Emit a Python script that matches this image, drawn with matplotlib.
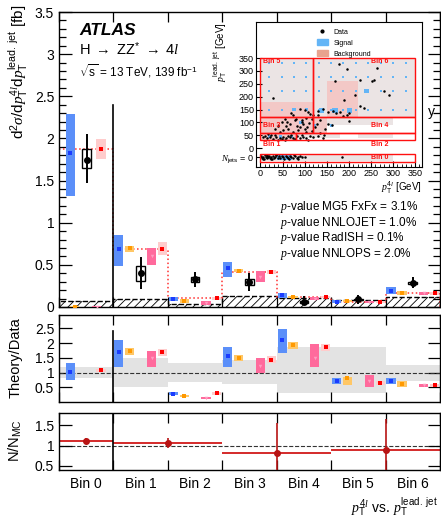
import matplotlib.pyplot as plt
import numpy as np
from matplotlib.patches import Rectangle, Patch
from matplotlib.lines import Line2D
from matplotlib.ticker import FuncFormatter, MultipleLocator

plt.rcParams['font.family'] = 'Liberation Sans'
plt.rcParams['mathtext.fontset'] = 'custom'
plt.rcParams['mathtext.rm'] = 'Liberation Sans'
plt.rcParams['mathtext.it'] = 'Liberation Serif:italic'
plt.rcParams['mathtext.bf'] = 'Liberation Sans:bold'
plt.rcParams['hatch.linewidth'] = 0.6

bins = ['Bin 0', 'Bin 1', 'Bin 2', 'Bin 3', 'Bin 4', 'Bin 5', 'Bin 6']

# --- top panel: cross sections [fb]
data_val = [1.75, 0.407, 0.33, 0.293, 0.063, 0.091, 0.288]
data_elo = [1.475, 0.217, 0.24, 0.19, 0.024, 0.036, 0.225]
data_ehi = [2.05, 0.597, 0.42, 0.40, 0.13, 0.142, 0.352]
data_slo = [1.645, 0.312, 0.30, 0.257, 0.05, 0.08, 0.275]
data_shi = [1.88, 0.486, 0.35, 0.33, 0.075, 0.10, 0.30]

mg5_c = [1.83, 0.688, 0.10, 0.466, 0.138, 0.065, 0.193]
mg5_lo = [1.317, 0.486, 0.071, 0.36, 0.11, 0.052, 0.154]
mg5_hi = [2.286, 0.854, 0.122, 0.537, 0.162, 0.08, 0.24]

nnlojet_c = [0.004, 0.703, 0.075, 0.43, 0.122, 0.068, 0.17]
nnlojet_lo = [0.0, 0.656, 0.05, 0.41, 0.11, 0.055, 0.145]
nnlojet_hi = [0.01, 0.727, 0.091, 0.45, 0.135, 0.085, 0.19]

radish_c = [0.004, 0.605, 0.045, 0.36, 0.10, 0.058, 0.162]
radish_lo = [0.0, 0.495, 0.027, 0.293, 0.08, 0.045, 0.145]
radish_hi = [0.01, 0.703, 0.067, 0.43, 0.122, 0.072, 0.18]

nnlops_c = [1.875, 0.692, 0.103, 0.415, 0.12, 0.056, 0.162]
nnlops_lo = [1.755, 0.617, 0.085, 0.39, 0.105, 0.045, 0.145]
nnlops_hi = [1.99, 0.775, 0.12, 0.44, 0.135, 0.07, 0.18]

bkg = [0.075, 0.09, 0.035, 0.13, 0.105, 0.085, 0.115]

pvalues = ['$p$-value MG5 FxFx = 3.1%', '$p$-value NNLOJET = 1.0%',
           '$p$-value RadISH = 0.1%', '$p$-value NNLOPS = 2.0%']

# --- middle panel: theory / data
band_lo = [0.81, 0.50, 0.67, 0.60, 0.30, 0.30, 0.70]
band_hi = [1.18, 1.48, 1.31, 1.42, 1.85, 1.85, 1.27]

r_mg5_c = [1.03, 1.69, 0.28, 1.57, 2.10, 0.71, 0.71]
r_mg5_lo = [0.73, 1.18, 0.23, 1.20, 1.67, 0.62, 0.60]
r_mg5_hi = [1.31, 2.10, 0.33, 1.85, 2.48, 0.80, 0.80]
r_nnlojet_c = [np.nan, 1.73, 0.20, 1.50, 1.94, 0.81, 0.62]
r_nnlojet_lo = [np.nan, 1.60, 0.16, 1.40, 1.80, 0.58, 0.52]
r_nnlojet_hi = [np.nan, 1.82, 0.25, 1.58, 2.04, 0.86, 0.72]
r_radish_c = [np.nan, 1.48, 0.13, 1.21, 1.48, 0.70, 0.56]
r_radish_lo = [np.nan, 1.20, 0.10, 0.98, 1.18, 0.50, 0.50]
r_radish_hi = [np.nan, 1.74, 0.18, 1.48, 1.97, 0.92, 0.62]
r_nnlops_c = [1.07, 1.69, 0.30, 1.43, 1.85, 0.64, 0.56]
r_nnlops_lo = [1.02, 1.55, 0.25, 1.32, 1.72, 0.57, 0.50]
r_nnlops_hi = [1.12, 1.80, 0.35, 1.55, 1.98, 0.72, 0.62]

# --- bottom panel: N / N_MC
nmc_lo_edge = [0, 1, 3, 5]
nmc_hi_edge = [1, 3, 5, 7]
nmc_val = [1.11, 1.06, 0.81, 0.90]
nmc_err = [0.08, 0.13, 0.75, 0.76]

# --- inset
inset_data_x = [29, 178, 196, 263, 169, 225, 253, 256, 280, 291, 214, 189, 225, 234, 131, 142, 153,
                172, 187, 196, 200, 180, 165, 89, 100, 108, 112, 116, 119, 131,
                163, 200, 152, 147, 143, 135, 70, 74, 55, 48, 40, 33, 67, 78, 82, 89, 93, 97, 100,
                106, 110, 85, 63, 51, 44, 74, 104, 116, 123, 127, 135, 60, 95, 103, 80, 58,
                6, 14, 21, 29, 36, 44, 51, 59, 67, 74, 82, 89, 97, 104, 112, 119, 131, 142, 10, 25,
                40, 55, 70, 93, 108, 17, 33, 48, 63, 78,
                2, 4, 6, 8, 10, 12, 14, 16, 18, 20, 22, 24, 26, 28, 30, 33, 36, 39, 42, 45, 48, 51,
                54, 57, 60, 63, 66, 70, 74, 78, 82, 86, 90, 95, 100, 184, 5, 15, 25, 35, 65, 75, 85]
inset_data_y = [195, 325, 309, 313, 260, 264, 260, 264, 222, 208, 205, 188, 162, 156, 143, 151, 140,
                138, 125, 127, 138, 140, 144, 151, 147, 140, 131, 114, 127, 127,
                91, 105, 92, 73, 53, 60, 138, 127, 114, 101, 88, 75, 95, 108, 88, 82, 101, 92, 75,
                84, 97, 69, 75, 69, 62, 62, 62, 66, 82, 95, 108, 100, 110, 118, 115, 85,
                43, 40, 45, 36, 43, 39, 44, 38, 43, 39, 48, 40, 45, 40, 49, 43, 49, 40, 49, 53,
                32, 32, 53, 53, 32, 55, 50, 35, 47, 34,
                -30, -38, -34, -42, -28, -36, -31, -40, -35, -29, -39, -33, -41, -30, -37, -34, -28, -40,
                -32, -38, -30, -36, -42, -31, -35, -39, -29, -33, -37, -31, -38, -34, -30, -36, -33, -35,
                -44, -26, -44, -26, -44, -26, -42]

sig_grid_x = [20, 48, 76, 104, 132, 160, 188, 216, 244, 272, 301, 329]
sig_grid_y = [150, 222, 277, 329]
sig_x = [138, 169, 201, 240, 76, 104, 123, 160, 45, 55, 65, 20, 45, 70, 90]
sig_y = [147, 147, 147, 222, 150, 150, 88, 88, -35, -35, -35, 45, 45, 45, 100]
sig_s = [14, 14, 14, 10, 6, 6, 6, 5, 18, 18, 14, 5, 6, 5, 4]

bg_x0 = [0, 0, 150, 0, 150, 0, 80, 220, 0]
bg_x1 = [350, 120, 220, 150, 300, 80, 180, 300, 300]
bg_y0 = [120, 120, 120, 60, 90, 30, 40, 40, -48]
bg_y1 = [350, 180, 260, 120, 120, 60, 60, 55, -22]
bg_lvl = [0, 1, 1, 1, 0, 1, 0, 0, 0]

ibin_x0 = [0, 0, 80, 0, 120, 0, 120]
ibin_x1 = [350, 80, 350, 120, 350, 120, 350]
ibin_y0 = [-54, 30, 30, 60, 60, 120, 120]
ibin_y1 = [-22, 60, 60, 120, 120, 350, 350]
ibin_lx = [250, 5, 250, 5, 250, 5, 250]
ibin_ly = [-35, 13, 13, 88, 88, 335, 335]

W, H = 441, 519
fig = plt.figure(figsize=(W / 100, H / 100), dpi=100)


def rect(x0, y0, x1, y1):
    return [x0 / W, 1 - y1 / H, (x1 - x0) / W, (y1 - y0) / H]


ax1 = fig.add_axes(rect(59, 12, 440, 307))
ax2 = fig.add_axes(rect(59, 315, 440, 402))
ax3 = fig.add_axes(rect(59, 413, 440, 470))

edges = np.arange(8)
left = np.arange(7)
off_first = {'mg5': 0.21, 'nnlojet': 0.29, 'data': 0.51, 'radish': 0.69, 'nnlops': 0.77}
off_rest = {'mg5': 0.1, 'nnlojet': 0.3, 'data': 0.5, 'radish': 0.7, 'nnlops': 0.9}


def xpos(key):
    return np.array([off_first[key]] + [off_rest[key]] * 6) + left


styles = {
    'mg5': dict(box='#5b8ff9', mk='s', mc='#1a3cff', ms=2.2),
    'nnlojet': dict(box='#ffc766', mk='s', mc='#ff9900', ms=2.5),
    'radish': dict(box='#ff6a9c', mk='v', mc='#ff9cc0', ms=2.5),
    'nnlops': dict(box='#ffcccc', mk='s', mc='#ff0000', ms=3.5),
}
bw = 0.17


def draw_models(ax, sets):
    for key, c, lo, hi in sets:
        st = styles[key]
        x = xpos(key)
        c, lo, hi = np.array(c), np.array(lo), np.array(hi)
        ok = ~np.isnan(c)
        ax.bar(x[ok], (hi - lo)[ok], bw, bottom=lo[ok], color=st['box'], lw=0, zorder=3)
        ax.plot(x[ok], c[ok], ls='none', marker=st['mk'], color=st['mc'], ms=st['ms'], mew=0, zorder=4)


# ---------------- top panel
ax1.bar(left + 0.5, bkg, 1.0, fill=False, hatch='////', edgecolor='black', lw=0, zorder=1)
ax1.stairs(bkg, edges, color='black', ls='--', lw=1, zorder=2)
ax1.stairs(nnlops_c, edges, color='#ff3030', ls=':', lw=1.1, zorder=2)
draw_models(ax1, [('mg5', mg5_c, mg5_lo, mg5_hi), ('nnlojet', nnlojet_c, nnlojet_lo, nnlojet_hi),
                  ('radish', radish_c, radish_lo, radish_hi), ('nnlops', nnlops_c, nnlops_lo, nnlops_hi)])
xd = xpos('data')
dv = np.array(data_val)
ax1.bar(xd, np.array(data_shi) - np.array(data_slo), 0.16, bottom=data_slo, facecolor='white',
        edgecolor='black', lw=1.0, zorder=5)
ax1.errorbar(xd, dv, yerr=[dv - np.array(data_elo), np.array(data_ehi) - dv], fmt='o', color='black',
             ms=4, elinewidth=1.4, capsize=0, zorder=6)
ax1.plot([1, 1], [0, 2.4], color='black', lw=1.2, zorder=6)
ax1.set_xlim(0, 7)
ax1.set_ylim(0, 3.5)
ax1.yaxis.set_major_locator(MultipleLocator(0.5))
ax1.yaxis.set_minor_locator(MultipleLocator(0.1))
ax1.yaxis.set_major_formatter(FuncFormatter(lambda v, p: '%g' % v))

ax1.text(0.37, 3.286, 'ATLAS', fontsize=12.5, fontweight='bold', fontstyle='italic', va='center')
ax1.text(0.37, 3.057, r'H $\rightarrow$ ZZ$^{*}$ $\rightarrow$ 4$l$', fontsize=10.5, va='center')
ax1.text(0.37, 2.80, r'$\sqrt{\mathrm{s}}$ = 13 TeV, 139 fb$^{-1}$', fontsize=8.5, va='center')
for i, t in enumerate(pvalues):
    ax1.text(4.06, 1.183 - i * 0.185, t, fontsize=8.5, va='center')
fig.text(431 / W, 1 - 112 / H, 'y', fontsize=10, ha='center', va='center')
fig.text(18 / W, 1 - 5 / H,
         r'd$^2\sigma$/d$p_{\mathrm{T}}^{4l}$d$p_{\mathrm{T}}^{\mathrm{lead.\ jet}}$ [fb]',
         rotation=90, fontsize=11, ha='center', va='top')

# ---------------- middle panel
ax2.bar(left + 0.5, np.array(band_hi) - np.array(band_lo), 1.0, bottom=band_lo, color='#e3e3e3', lw=0, zorder=1)
ax2.axhline(1, color='#333333', ls='--', lw=0.8, zorder=2)
draw_models(ax2, [('mg5', r_mg5_c, r_mg5_lo, r_mg5_hi), ('nnlojet', r_nnlojet_c, r_nnlojet_lo, r_nnlojet_hi),
                  ('radish', r_radish_c, r_radish_lo, r_radish_hi), ('nnlops', r_nnlops_c, r_nnlops_lo, r_nnlops_hi)])
ax2.plot([1, 1], [0, 2.4], color='black', lw=1.2, zorder=6)
ax2.set_xlim(0, 7)
ax2.set_ylim(0, 2.95)
ax2.set_yticks([0.5, 1, 1.5, 2, 2.5])
ax2.yaxis.set_major_formatter(FuncFormatter(lambda v, p: '%g' % v))
fig.text(16 / W, 1 - 358 / H, 'Theory/Data', rotation=90, fontsize=10.5, ha='center', va='center')

# ---------------- bottom panel
ax3.axhline(1, color='#333333', ls='--', lw=0.8, zorder=1)
ax3.hlines(nmc_val, nmc_lo_edge, nmc_hi_edge, color='#d42a2a', lw=1.4, zorder=2)
nx = (np.array(nmc_lo_edge) + np.array(nmc_hi_edge)) / 2
ax3.errorbar(nx, nmc_val, yerr=nmc_err, fmt='o', color='#b81414', ms=4, elinewidth=1.2, capsize=0, zorder=3)
ax3.axvline(1, color='black', lw=1.2, zorder=4)
ax3.set_xlim(0, 7)
ax3.set_ylim(0.4, 1.8)
ax3.set_yticks([0.5, 1, 1.5])
ax3.yaxis.set_major_formatter(FuncFormatter(lambda v, p: '%g' % v))
ax3.set_xticks(left + 0.5, bins, minor=True)
fig.text(15 / W, 1 - 441 / H, r'N/N$_{\mathrm{MC}}$', rotation=90, fontsize=10.5, ha='center', va='center')
fig.text(438 / W, 1 - 507 / H, r'$p_{\mathrm{T}}^{4l}$ vs. $p_{\mathrm{T}}^{\mathrm{lead.\ jet}}$',
         fontsize=10, ha='right', va='center')

for ax in (ax1, ax2, ax3):
    ax.set_xticks(edges)
    ax.tick_params(which='major', axis='x', labelbottom=False, length=7)
    ax.tick_params(which='both', direction='in', top=True, right=True, labelsize=10, width=0.9)
    ax.tick_params(which='major', axis='y', length=9)
    ax.tick_params(which='minor', axis='y', length=5)
    for s in ax.spines.values():
        s.set_linewidth(1.0)
ax3.tick_params(which='minor', axis='x', length=0, labelbottom=True, labelsize=10, pad=5)

# ---------------- inset
axi = fig.add_axes(rect(256, 22, 421.7, 166.7))
bgcol = ['#ebe4e4', '#f3c8c6']
for x0, x1, y0, y1, lv in zip(bg_x0, bg_x1, bg_y0, bg_y1, bg_lvl):
    axi.add_patch(Rectangle((x0, y0), x1 - x0, y1 - y0, color=bgcol[lv], lw=0, zorder=1))
gx, gy = np.meshgrid(sig_grid_x, sig_grid_y)
axi.scatter(gx.ravel(), gy.ravel(), s=1.2, marker='s', color='#64b5f6', lw=0, zorder=2)
axi.scatter(sig_x, sig_y, s=sig_s, marker='s', color='#64b5f6', lw=0, zorder=2)
axi.plot(inset_data_x, inset_data_y, 'o', color='black', ms=1.8, mew=0, zorder=3)
for x0, x1, y0, y1, lx, ly, name in zip(ibin_x0, ibin_x1, ibin_y0, ibin_y1, ibin_lx, ibin_ly, bins):
    axi.add_patch(Rectangle((x0, y0), x1 - x0, y1 - y0, fill=False, edgecolor='#ff1010', lw=1.0, zorder=4))
    axi.text(lx, ly, name, color='#ff1010', fontsize=5, fontweight='bold', va='center', zorder=5)
axi.set_xlim(-10, 365)
axi.set_ylim(-72, 490)
axi.set_xticks(range(0, 351, 50))
axi.xaxis.set_minor_locator(MultipleLocator(10))
axi.set_yticks([-35] + list(range(0, 351, 50)),
               [r'$N_{\mathrm{jets}}$ = 0'] + [str(v) for v in range(0, 351, 50)])
axi.tick_params(which='both', direction='in', labelsize=6.5, pad=1.5)
axi.tick_params(which='major', length=4)
axi.tick_params(which='minor', length=2)
axi.set_xlabel(r'$p_{\mathrm{T}}^{4l}$ [GeV]', fontsize=7, loc='right', labelpad=1)
axi.set_ylabel(r'$p_{\mathrm{T}}^{\mathrm{lead.\ jet}}$ [GeV]', fontsize=7, loc='top')
axi.yaxis.set_label_coords(-0.16, 1.0)
handles = [Line2D([], [], ls='none', marker='o', color='black', ms=2),
           Patch(color='#64b5f6'), Patch(color='#e8a38f')]
axi.legend(handles, ['Data', 'Signal', 'Background'], loc='upper left', bbox_to_anchor=(0.33, 1.0),
           fontsize=5, frameon=False, handlelength=1.6, handleheight=1.0, labelspacing=0.5)

fig.savefig('out.png', dpi=100)
